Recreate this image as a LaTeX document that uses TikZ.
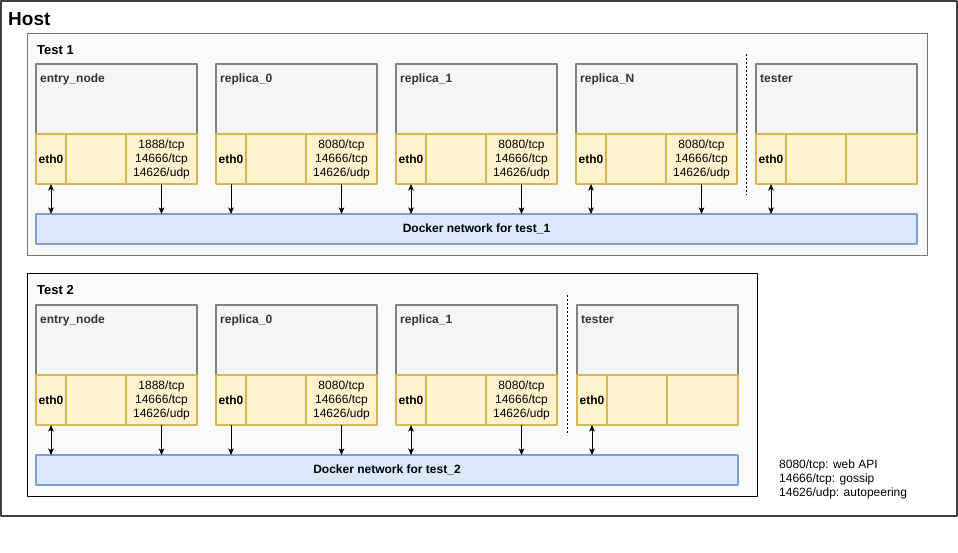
\documentclass[tikz,border=0pt]{standalone}
\usepackage{fontspec}
\setmainfont{Liberation Sans}
\usetikzlibrary{positioning,arrows.meta}
\definecolor{grpfill}{HTML}{FAFAFA}
\definecolor{grpline}{HTML}{777777}
\definecolor{gboxfill}{HTML}{F5F5F5}
\definecolor{gboxline}{HTML}{828282}
\definecolor{ylwfill}{HTML}{FFF2CC}
\definecolor{ylwline}{HTML}{D6B656}
\definecolor{netfill}{HTML}{DAE8FC}
\definecolor{netline}{HTML}{7EA0CC}
\definecolor{labgray}{HTML}{333333}
\tikzset{
	grp/.style={draw=#1, fill=grpfill, line width=1pt, anchor=north west, inner sep=0, outer sep=0},
	gbox/.style={draw=gboxline, fill=gboxfill, line width=1.6pt, anchor=north west, minimum width=161pt, minimum height=70pt, inner sep=0, outer sep=0},
	cell/.style={draw=ylwline, fill=ylwfill, line width=1.6pt, anchor=north west, minimum height=50pt, inner sep=0, outer sep=0, font=\fontsize{12}{14}\selectfont},
	clab/.style={anchor=base west, inner sep=0, text=labgray, font=\bfseries\fontsize{12}{14}\selectfont},
	net/.style={draw=netline, fill=netfill, line width=1.6pt, anchor=north west, minimum height=30pt, inner sep=0, outer sep=0, font=\bfseries\fontsize{12}{14}\selectfont},
	tlab/.style={anchor=base west, inner sep=0, font=\bfseries\fontsize{13}{15}\selectfont},
	link/.style={line width=1pt, line cap=butt}
}
\begin{document}
\begin{tikzpicture}[>={Stealth[length=6.5pt,width=5.5pt,inset=1.5pt]}, x=1pt, y=-1pt, line join=round, line cap=round]
	\useasboundingbox (0,0) rectangle (958,552);
	\def\prt{8080/tcp\\14666/tcp\\14626/udp}
	\def\ctr#1#2#3#4#5{% name, x, y, label, ports
		\node[gbox] (#1) at (#2,#3) {};
		\node[clab] (#1-lab) at ([xshift=4pt,yshift=-18pt]#1.north west) {#4};
		\node[cell, minimum width=30pt, font=\bfseries\fontsize{12}{14}\selectfont] (#1-eth) at (#1.south west) {eth0};
		\node[cell, minimum width=60pt] (#1-mid) at (#1-eth.north east) {};
		\node[cell, minimum width=71pt, align=center] (#1-port) at (#1-mid.north east) {#5};
	}
	% Host
	\node[grp=black!75, fill=white, line width=2pt, minimum width=956pt, minimum height=515pt] (host) at (1,1) {};
	\node[anchor=base west, inner sep=0, font=\bfseries\fontsize{19}{21}\selectfont] (host-lab) at (8,25) {Host};
	% Test 1
	\node[grp=grpline, minimum width=900pt, minimum height=222pt] (test1) at (27,33) {};
	\node[tlab] (test1-lab) at (37,54) {Test 1};
	\ctr{en1}{36}{64}{entry\_node}{1888/tcp\\14666/tcp\\14626/udp}
	\ctr{ra1}{216}{64}{replica\_0}{\prt}
	\ctr{rb1}{396}{64}{replica\_1}{\prt}
	\ctr{rn1}{576}{64}{replica\_N}{\prt}
	\ctr{ts1}{756}{64}{tester}{}
	\draw[dash pattern=on 2pt off 2pt, line width=1pt, line cap=butt] (746.5,54) -- (746.5,195);
	\node[net, minimum width=881pt] (net1) at (36,214) {Docker network for test\_1};
	\draw[link, <->] (en1-eth.south) -- (en1-eth.south |- net1.north);
	\draw[link, ->] (en1-port.south) -- (en1-port.south |- net1.north);
	\draw[link, ->] (ra1-eth.south) -- (ra1-eth.south |- net1.north);
	\draw[link, ->] (ra1-port.south) -- (ra1-port.south |- net1.north);
	\draw[link, <->] (rb1-eth.south) -- (rb1-eth.south |- net1.north);
	\draw[link, ->] (rb1-port.south) -- (rb1-port.south |- net1.north);
	\draw[link, <->] (rn1-eth.south) -- (rn1-eth.south |- net1.north);
	\draw[link, ->] (rn1-port.south) -- (rn1-port.south |- net1.north);
	\draw[link, <->] (ts1-eth.south) -- (ts1-eth.south |- net1.north);
	% Test 2
	\node[grp=black, minimum width=730pt, minimum height=223pt] (test2) at (27,273) {};
	\node[tlab] (test2-lab) at (37,294.5) {Test 2};
	\ctr{en2}{36}{305}{entry\_node}{1888/tcp\\14666/tcp\\14626/udp}
	\ctr{ra2}{216}{305}{replica\_0}{\prt}
	\ctr{rb2}{396}{305}{replica\_1}{\prt}
	\ctr{ts2}{577}{305}{tester}{}
	\draw[dash pattern=on 2pt off 2pt, line width=1pt, line cap=butt] (567,295) -- (567,435);
	\node[net, minimum width=702pt] (net2) at (36,455) {Docker network for test\_2};
	\draw[link, <->] (en2-eth.south) -- (en2-eth.south |- net2.north);
	\draw[link, ->] (en2-port.south) -- (en2-port.south |- net2.north);
	\draw[link, ->] (ra2-eth.south) -- (ra2-eth.south |- net2.north);
	\draw[link, ->] (ra2-port.south) -- (ra2-port.south |- net2.north);
	\draw[link, <->] (rb2-eth.south) -- (rb2-eth.south |- net2.north);
	\draw[link, ->] (rb2-port.south) -- (rb2-port.south |- net2.north);
	\draw[link, <->] (ts2-eth.south) -- (ts2-eth.south |- net2.north);
	% legend
	\node[anchor=north west, inner sep=0, align=left, font=\fontsize{12}{14}\selectfont] (legend) at (779,460) {8080/tcp: web API\\14666/tcp: gossip\\14626/udp: autopeering};
\end{tikzpicture}
\end{document}
